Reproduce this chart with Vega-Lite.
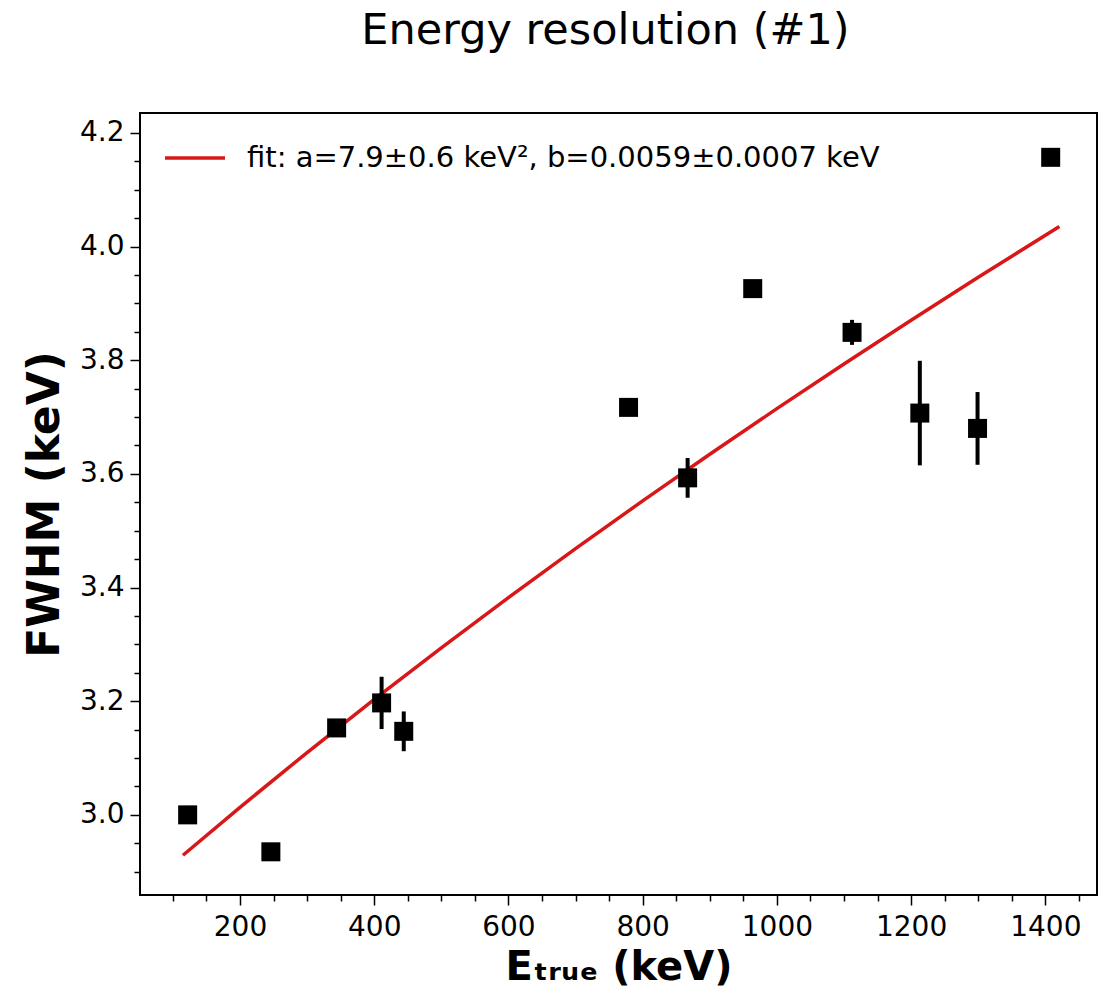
{
  "$schema": "https://vega.github.io/schema/vega-lite/v6.json",
  "autosize": {"type": "none"},
  "padding": {"left": 140, "top": 113, "right": 4, "bottom": 104},
  "width": 957,
  "height": 782,
  "background": "white",
  "config": {
    "font": "DejaVu Sans",
    "view": {"stroke": "black", "strokeWidth": 2},
    "axis": {"grid": false, "domain": false}
  },
  "title": {
    "text": "Energy resolution (#1)",
    "fontSize": 43,
    "fontWeight": "normal",
    "font": "DejaVu Sans",
    "color": "black",
    "anchor": "middle",
    "offset": 60,
    "dx": -13
  },
  "datasets": {
    "meas": [
      {"E": 122, "fwhm": 3.000, "lo": 2.998, "hi": 3.002},
      {"E": 246, "fwhm": 2.935, "lo": 2.933, "hi": 2.937},
      {"E": 344, "fwhm": 3.153, "lo": 3.148, "hi": 3.158},
      {"E": 411, "fwhm": 3.197, "lo": 3.151, "hi": 3.243},
      {"E": 444, "fwhm": 3.147, "lo": 3.112, "hi": 3.182},
      {"E": 779, "fwhm": 3.717, "lo": 3.712, "hi": 3.722},
      {"E": 867, "fwhm": 3.593, "lo": 3.558, "hi": 3.628},
      {"E": 964, "fwhm": 3.926, "lo": 3.918, "hi": 3.934},
      {"E": 1112, "fwhm": 3.849, "lo": 3.827, "hi": 3.871},
      {"E": 1213, "fwhm": 3.707, "lo": 3.615, "hi": 3.799},
      {"E": 1299, "fwhm": 3.680, "lo": 3.616, "hi": 3.744},
      {"E": 1408, "fwhm": 4.157, "lo": 4.149, "hi": 4.165}
    ],
    "fit": [
      {"E": 115, "fwhm": 2.9289, "series": "fit: a=7.9±0.6 keV², b=0.0059±0.0007 keV"},
      {"E": 200, "fwhm": 3.0133, "series": "fit: a=7.9±0.6 keV², b=0.0059±0.0007 keV"},
      {"E": 300, "fwhm": 3.1097, "series": "fit: a=7.9±0.6 keV², b=0.0059±0.0007 keV"},
      {"E": 400, "fwhm": 3.2031, "series": "fit: a=7.9±0.6 keV², b=0.0059±0.0007 keV"},
      {"E": 500, "fwhm": 3.2939, "series": "fit: a=7.9±0.6 keV², b=0.0059±0.0007 keV"},
      {"E": 600, "fwhm": 3.3823, "series": "fit: a=7.9±0.6 keV², b=0.0059±0.0007 keV"},
      {"E": 700, "fwhm": 3.4684, "series": "fit: a=7.9±0.6 keV², b=0.0059±0.0007 keV"},
      {"E": 800, "fwhm": 3.5525, "series": "fit: a=7.9±0.6 keV², b=0.0059±0.0007 keV"},
      {"E": 900, "fwhm": 3.6346, "series": "fit: a=7.9±0.6 keV², b=0.0059±0.0007 keV"},
      {"E": 1000, "fwhm": 3.7148, "series": "fit: a=7.9±0.6 keV², b=0.0059±0.0007 keV"},
      {"E": 1100, "fwhm": 3.7934, "series": "fit: a=7.9±0.6 keV², b=0.0059±0.0007 keV"},
      {"E": 1200, "fwhm": 3.8704, "series": "fit: a=7.9±0.6 keV², b=0.0059±0.0007 keV"},
      {"E": 1300, "fwhm": 3.9459, "series": "fit: a=7.9±0.6 keV², b=0.0059±0.0007 keV"},
      {"E": 1421, "fwhm": 4.0353, "series": "fit: a=7.9±0.6 keV², b=0.0059±0.0007 keV"}
    ]
  },
  "encoding": {
    "x": {
      "field": "E",
      "type": "quantitative",
      "scale": {"domain": [51, 1477], "nice": false, "zero": false},
      "axis": {
        "title": "Eₜᵣᵤₑ (keV)",
        "titleFontSize": 40,
        "titleFontWeight": "bold",
        "titleColor": "black",
        "titlePadding": 6,
        "values": [100,150,200,250,300,350,400,450,500,550,600,650,700,750,800,850,900,950,1000,1050,1100,1150,1200,1250,1300,1350,1400,1450],
        "labelExpr": "datum.value % 200 == 0 ? datum.label : ''",
        "format": "d",
        "labelFontSize": 28,
        "labelColor": "black",
        "labelPadding": 8,
        "tickColor": "black",
        "tickWidth": 1.5,
        "tickSize": {"condition": {"test": "datum.value % 200 == 0", "value": 10}, "value": 6}
      }
    },
    "y": {
      "field": "fwhm",
      "type": "quantitative",
      "scale": {"domain": [2.859, 4.235], "nice": false, "zero": false},
      "axis": {
        "title": "FWHM (keV)",
        "titleFontSize": 44,
        "titleFontWeight": "bold",
        "titleColor": "black",
        "titlePadding": 12,
        "values": [2.9,2.95,3.0,3.05,3.1,3.15,3.2,3.25,3.3,3.35,3.4,3.45,3.5,3.55,3.6,3.65,3.7,3.75,3.8,3.85,3.9,3.95,4.0,4.05,4.1,4.15,4.2],
        "format": ".1f",
        "labelExpr": "round(datum.value * 100) % 20 == 0 ? datum.label : ''",
        "labelFontSize": 28,
        "labelColor": "black",
        "labelPadding": 6,
        "tickColor": "black",
        "tickWidth": 1.5,
        "tickSize": {"condition": {"test": "round(datum.value * 100) % 20 == 0", "value": 10}, "value": 6}
      }
    }
  },
  "layer": [
    {
      "data": {"name": "fit"},
      "mark": {"type": "line", "strokeWidth": 3.5},
      "encoding": {
        "color": {
          "field": "series",
          "type": "nominal",
          "scale": {"range": ["#d81818"]},
          "legend": {
            "title": null,
            "orient": "none",
            "legendX": 23,
            "legendY": 13,
            "symbolType": "stroke",
            "symbolSize": 3600,
            "symbolStrokeWidth": 3.5,
            "labelFontSize": 29,
            "labelColor": "black",
            "labelOffset": 20,
            "labelLimit": 900
          }
        }
      }
    },
    {
      "data": {"name": "meas"},
      "mark": {"type": "rule", "color": "black", "strokeWidth": 4},
      "encoding": {
        "y": {"field": "lo", "type": "quantitative"},
        "y2": {"field": "hi"}
      }
    },
    {
      "data": {"name": "meas"},
      "mark": {"type": "point", "shape": "square", "filled": true, "color": "black", "opacity": 1, "size": 361}
    }
  ]
}
